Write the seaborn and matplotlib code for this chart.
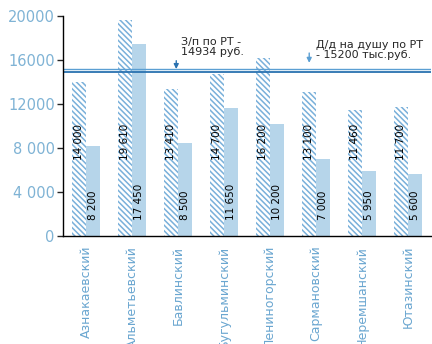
import matplotlib
matplotlib.use("Agg")
import matplotlib.pyplot as plt
import seaborn as sns
import pandas as pd

# Данные
raions = ["Азнакаевский", "Альметьевский", "Бавлинский", "Бугульминский",
          "Лениногорский", "Сармановский", "Черемшанский", "Ютазинский"]
zarplata = [14000, 19610, 13410, 14700, 16200, 13100, 11460, 11700]
dohod = [8200, 17450, 8500, 11650, 10200, 7000, 5950, 5600]
zp_labels = ["14 000", "19 610", "13 410", "14 700", "16 200", "13 100", "11 460", "11 700"]
dd_labels = ["8 200", "17 450", "8 500", "11 650", "10 200", "7 000", "5 950", "5 600"]
zp_rt = 14934
dd_rt = 15200
y_ticks = [0, 4000, 8000, 12000, 16000, 20000]
y_ticklabels = ["0", "4 000", "8 000", "12000", "16000", "20000"]

df = pd.DataFrame({
    "raion": raions * 2,
    "value": zarplata + dohod,
    "series": ["zp"] * len(raions) + ["dd"] * len(raions),
})

sns.set_style("white")
plt.rcParams["font.family"] = ["DejaVu Sans"]
plt.rcParams["hatch.linewidth"] = 1.1

fig = plt.figure(figsize=(4.32, 3.44), dpi=100)
ax = fig.add_axes([0.146, 0.314, 0.852, 0.639])

sns.barplot(data=df, x="raion", y="value", hue="series", order=raions,
            hue_order=["zp", "dd"], palette=["white", "#b6d5ea"],
            width=0.6, gap=0, legend=False, ax=ax, saturation=1)

# штриховка для первой серии
for p in ax.patches[:len(raions)]:
    p.set_facecolor("white")
    p.set_edgecolor("#79b0da")
    p.set_hatch("\\\\\\\\\\\\")
    p.set_linewidth(0)
for p in ax.patches[len(raions):]:
    p.set_edgecolor("none")

# подписи значений
for i in range(len(raions)):
    ax.text(i - 0.15, 6900, zp_labels[i], rotation=90, ha="center", va="bottom",
            fontsize=7.5, color="black")
    ax.text(i + 0.15, 1450, dd_labels[i], rotation=90, ha="center", va="bottom",
            fontsize=7.5, color="black")

# линии средних по РТ
ax.axhline(dd_rt, color="#5b9fd3", lw=1.0)
ax.axhline(zp_rt, color="#2a72b0", lw=1.3)
ax.annotate("", xy=(1.96, zp_rt), xytext=(1.96, 16200),
            arrowprops=dict(arrowstyle="-|>", color="#2a72b0", lw=1, mutation_scale=7))
ax.annotate("", xy=(4.85, dd_rt + 300), xytext=(4.85, 16900),
            arrowprops=dict(arrowstyle="-|>", color="#5b9fd3", lw=1, mutation_scale=7))
ax.text(2.06, 18100, "З/п по РТ -\n14934 руб.", fontsize=8, va="top", ha="left",
        linespacing=1.0)
ax.text(5.0, 17800, "Д/д на душу по РТ\n- 15200 тыс.руб.", fontsize=8, va="top",
        ha="left", linespacing=1.0)

# оси
ax.set_ylim(0, 20000)
ax.set_xlim(-0.5, len(raions) - 0.5)
ax.set_yticks(y_ticks)
ax.set_yticklabels(y_ticklabels, fontsize=10.5, color="#7fb3d5")
ax.set_xticks(range(len(raions)))
ax.set_xticklabels(raions, rotation=90, fontsize=9, color="#6aa6d0")
ax.tick_params(axis="x", length=0, pad=7)
ax.set_xticks([i - 0.5 for i in range(len(raions) + 1)], minor=True)
ax.tick_params(axis="x", which="minor", length=6, direction="inout", width=1)
ax.tick_params(axis="y", length=4, direction="out", width=1, left=True, pad=2)
ax.set_xlabel("")
ax.set_ylabel("")
for s in ["top", "right"]:
    ax.spines[s].set_visible(False)
for s in ["left", "bottom"]:
    ax.spines[s].set_color("black")
    ax.spines[s].set_linewidth(1)

fig.savefig("out.png", dpi=100)
